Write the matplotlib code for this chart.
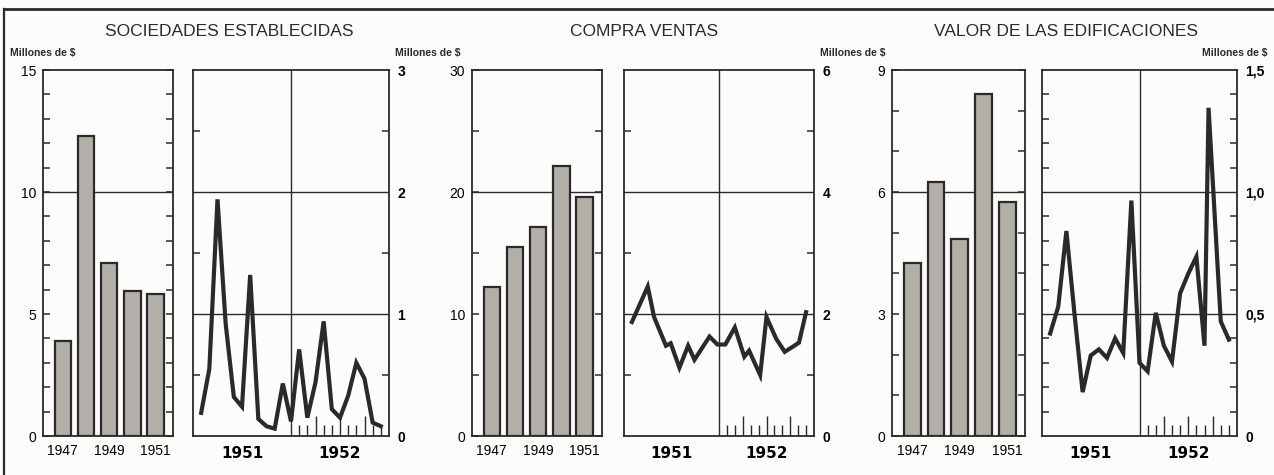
import matplotlib
matplotlib.use('Agg')
import matplotlib.pyplot as plt
from matplotlib.lines import Line2D

plt.rcParams['font.family'] = ['Liberation Sans', 'DejaVu Sans']

# Annual values (bars), millions of $
years = ['1947', '1948', '1949', '1950', '1951']
year_labels = ['1947', '', '1949', '', '1951']
soc_bars = [3.9, 12.3, 7.1, 5.95, 5.8]
compra_bars = [12.2, 15.5, 17.1, 22.1, 19.6]
valor_bars = [4.25, 6.25, 4.85, 8.4, 5.75]

# Monthly values 1951-1952 (lines); month 1 = Jan 1951
soc_months = [1, 2, 3, 4, 5, 6, 7, 8, 9, 10, 11, 12, 13, 14, 15, 16, 17, 18, 19, 20, 21, 22, 23]
soc_line = [0.19, 0.55, 1.94, 0.92, 0.32, 0.24, 1.32, 0.14, 0.08, 0.06, 0.43, 0.12,
            0.71, 0.15, 0.44, 0.94, 0.22, 0.15, 0.33, 0.60, 0.47, 0.11, 0.08]
compra_months = [1, 3, 3.8, 5.3, 5.9, 7.0, 8.1, 8.9, 10.8, 11.8, 12.8, 14.0, 15.2,
                 15.8, 17.2, 18.0, 19.2, 20.3, 21.4, 22.1, 23.0]
compra_line = [1.87, 2.45, 1.95, 1.48, 1.52, 1.12, 1.48, 1.25, 1.63, 1.50, 1.50, 1.78,
               1.30, 1.40, 1.00, 1.95, 1.60, 1.38, 1.47, 1.53, 2.03]
valor_months = [1, 2, 3, 4, 5, 6, 7, 8, 9, 10, 11, 12, 13, 14, 15, 16, 17, 18, 19, 20,
                20.5, 22, 23]
valor_line = [0.42, 0.53, 0.84, 0.50, 0.18, 0.33, 0.355, 0.32, 0.40, 0.34, 0.965, 0.30,
              0.265, 0.505, 0.37, 0.305, 0.585, 0.665, 0.735, 0.37, 1.345, 0.47, 0.395]

titles = ['SOCIEDADES ESTABLECIDAS', 'COMPRA VENTAS', 'VALOR DE LAS EDIFICACIONES']
unit_label = 'Millones de $'
month_ticks = [13, 14, 15, 16, 17, 18, 19, 20, 21, 22, 23]
quarter_ticks = [15, 18, 21]

ink = '#2b2a28'
bar_fill = '#b2afa8'
paper = '#fcfcfa'

W, H = 1274, 475
fig = plt.figure(figsize=(W / 100, H / 100), dpi=100, facecolor=paper)


def px_axes(x0, x1, y0=70, y1=436):
    ax = fig.add_axes([x0 / W, 1 - y1 / H, (x1 - x0) / W, (y1 - y0) / H])
    ax.set_facecolor(paper)
    for s in ax.spines.values():
        s.set_color(ink)
        s.set_linewidth(1.3)
    return ax


def bar_panel(x0, x1, values, top, major, minor):
    ax = px_axes(x0, x1)
    ax.bar(range(len(values)), values, width=0.7, color=bar_fill, edgecolor=ink,
           linewidth=1.6, zorder=3)
    ax.set_xlim(-0.85, 4.75)
    ax.set_ylim(0, top)
    ax.axhline(major[2], color=ink, lw=1.0, zorder=1)
    ax.set_yticks(major)
    ax.set_yticklabels([str(v) for v in major], fontsize=10)
    ax.set_yticks(minor, minor=True)
    ax.tick_params(axis='y', which='both', direction='in', left=True, right=True,
                   length=5, width=1.1, color=ink, pad=5)
    ax.set_xticks(range(len(values)))
    ax.set_xticklabels(year_labels, fontsize=10,
                       family=['Liberation Sans Narrow', 'Liberation Sans'])
    ax.tick_params(axis='x', length=0, pad=6)
    return ax


def line_panel(x0, x1, months, values, top, major, labels, minor, lines):
    ax = px_axes(x0, x1)
    ax.plot(months, values, color=ink, lw=3.0, solid_joinstyle='miter', zorder=3)
    ax.set_xlim(0, 24)
    ax.set_ylim(0, top)
    for v in lines:
        ax.axhline(v, color=ink, lw=1.0, zorder=1)
    ax.axvline(12, color=ink, lw=1.0, zorder=1)
    ax.yaxis.tick_right()
    ax.set_yticks(major)
    ax.set_yticklabels(labels, fontsize=10, fontweight='bold')
    ax.set_yticks(minor, minor=True)
    ax.tick_params(axis='y', which='minor', direction='in', left=True, right=True,
                   length=5, width=1.1, color=ink)
    ax.tick_params(axis='y', which='major', length=0, pad=6)
    # month marks along the bottom of 1952
    tr = ax.get_xaxis_transform()
    short = [m for m in month_ticks if m not in quarter_ticks]
    ax.vlines(short, 0, 0.03, color=ink, lw=1.0, transform=tr)
    ax.vlines(quarter_ticks, 0, 0.055, color=ink, lw=1.0, transform=tr)
    ax.set_xticks([6, 18])
    ax.set_xticklabels(['1951', '1952'], fontsize=11, fontweight='bold',
                       family=['DejaVu Sans'])
    ax.tick_params(axis='x', length=0, pad=7)
    return ax


# Sociedades establecidas
bar_panel(43, 173, soc_bars, 15, [0, 5, 10, 15],
          [1, 2, 3, 4, 6, 7, 8, 9, 11, 12, 13, 14])
line_panel(193, 389, soc_months, soc_line, 3, [0, 1, 2, 3], ['0', '1', '2', '3'],
           [0.5, 1.5, 2.5], [1, 2])

# Compra ventas
bar_panel(472, 602, compra_bars, 30, [0, 10, 20, 30], [5, 15, 25])
line_panel(624, 814, compra_months, compra_line, 6, [0, 2, 4, 6], ['0', '2', '4', '6'],
           [1, 3, 5], [2, 4])

# Valor de las edificaciones
bar_panel(892, 1025, valor_bars, 9, [0, 3, 6, 9], [1, 2, 4, 5, 7, 8])
line_panel(1042, 1237, valor_months, valor_line, 1.5, [0, 0.5, 1.0, 1.5],
           ['0', '0,5', '1,0', '1,5'],
           [0.1, 0.2, 0.3, 0.4, 0.6, 0.7, 0.8, 0.9, 1.1, 1.2, 1.3, 1.4], [0.5, 1.0])

# Titles and unit labels
for cx, t in zip([229, 644, 1066], titles):
    fig.text(cx / W, 1 - 32 / H, t, ha='center', va='center', fontsize=12.5, color=ink)

fig.text(10 / W, 1 - 53 / H, unit_label, ha='left', va='center', fontsize=7.5,
         fontweight='bold', color=ink)
fig.text(428 / W, 1 - 53 / H, unit_label, ha='center', va='center', fontsize=7.5,
         fontweight='bold', color=ink)
fig.text(853 / W, 1 - 53 / H, unit_label, ha='center', va='center', fontsize=7.5,
         fontweight='bold', color=ink)
fig.text(1268 / W, 1 - 53 / H, unit_label, ha='right', va='center', fontsize=7.5,
         fontweight='bold', color=ink)

# Frame around the page
fig.add_artist(Line2D([4 / W, 1], [1 - 9 / H, 1 - 9 / H], color=ink, lw=2.0,
                      transform=fig.transFigure))
fig.add_artist(Line2D([4 / W, 4 / W], [0, 1 - 9 / H], color=ink, lw=1.6,
                      transform=fig.transFigure))

plt.savefig('out.png', dpi=100, facecolor=paper)
